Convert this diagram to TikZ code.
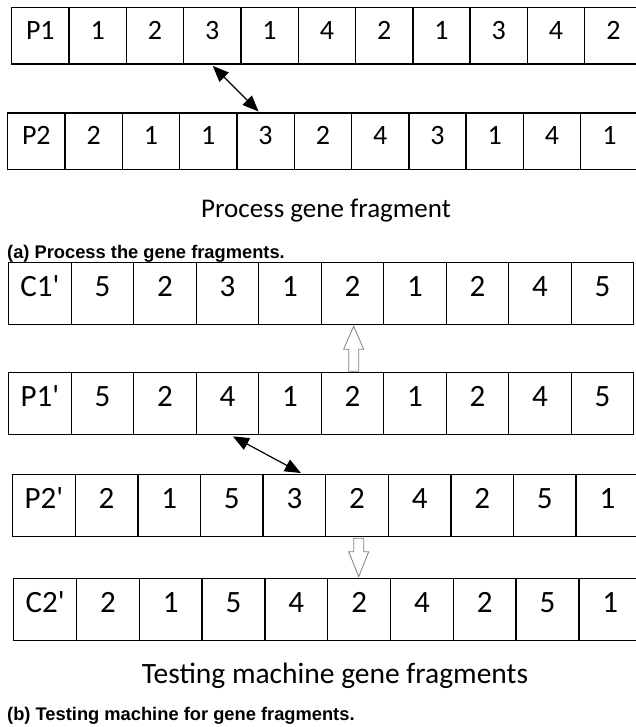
\documentclass[tikz,border=0pt]{standalone}
\usepackage{fontspec}
\setmainfont{Carlito}
\newfontfamily\cellfont{Carlito}[Ligatures=NoCommon]
\newfontfamily\capfont{Liberation Sans}
\usetikzlibrary{arrows.meta,calc}
\newcommand\ap{{\cellfont\XeTeXglyph\XeTeXcharglyph"27\relax}}
\newcommand\generow[7]{%
  \foreach \t [count=\i from 0] in {#7} {
    \node[#6, minimum width=#4pt] (#1\i) at ({#2+\i*#4}, #3) {\t};
  }}
\begin{document}
\begin{tikzpicture}[x=1pt,y=-1pt,
  cell/.style={draw=black,line width=1.4pt,inner sep=0pt,anchor=north west,text height=0.64em,text depth=0pt},
  cellA/.style={cell,minimum height=56.5pt,font=\cellfont\fontsize{28}{30}\selectfont},
  cellB/.style={cell,minimum height=62pt,font=\cellfont\fontsize{31}{33}\selectfont},
  swap/.style={line width=1.2pt,{Triangle[length=16pt,width=13pt]}-{Triangle[length=16pt,width=13pt]}},
  blockarrow/.style={draw=black!50,line width=0.8pt,fill=white},
  title/.style={anchor=base,inner sep=0pt},
  caption/.style={anchor=base west,inner sep=0pt,font=\capfont\bfseries\fontsize{18.3}{20}\selectfont}]
\useasboundingbox (0,0) rectangle (636,727);
\clip (0,0) rectangle (636,727);
\fill[white] (0,0) rectangle (636,727);
% (a)
\generow{a}{11}{7}{57.3}{56.5}{cellA}{P1,1,2,3,1,4,2,1,3,4,2}
\generow{b}{7}{112.5}{57.3}{56.5}{cellA}{P2,2,1,1,3,2,4,3,1,4,1}
\draw[swap] ($(a3.south)+(0.5,1)$) -- ($(b4.north)+(-7,-1)$);
\node[title,font=\fontsize{27}{30}\selectfont] (t1) at (326,218) {Process gene fragment};
\node[caption] (capA) at (7,258) {(a) Process the gene fragments.};
% (b)
\generow{c}{8}{262}{62.5}{62}{cellB}{C1\ap,5,2,3,1,2,1,2,4,5}
\generow{p}{8}{372}{62.5}{61.5}{cellB}{P1\ap,5,2,4,1,2,1,2,4,5}
\generow{q}{12}{474}{62.6}{62}{cellB}{P2\ap,2,1,5,3,2,4,2,5,1}
\generow{r}{13}{577.5}{62.8}{62.5}{cellB}{C2\ap,2,1,5,4,2,4,2,5,1}
\draw[swap] ($(p3.south)+(5.5,1)$) -- ($(q4.north)+(6.5,-1)$);
% open block arrows
\coordinate (ub) at ($(p5.north)+(1.2,-0.8)$);
\coordinate (ut) at ($(c5.south)+(1.2,0.8)$);
\draw[blockarrow] ($(ub)+(-5,0)$) -- ($(ut)+(-5,23)$) -- ($(ut)+(-10,23)$) -- (ut)
  -- ($(ut)+(10,23)$) -- ($(ut)+(5,23)$) -- ($(ub)+(5,0)$) -- cycle;
\coordinate (db) at ($(q5.south)+(1.7,0.8)$);
\coordinate (dt) at ($(r5.north)+(0,-0.8)$);
\coordinate (dt) at (db |- dt);
\draw[blockarrow] ($(db)+(-5,0)$) -- ($(dt)+(-5,-25)$) -- ($(dt)+(-10,-25)$) -- (dt)
  -- ($(dt)+(10,-25)$) -- ($(dt)+(5,-25)$) -- ($(db)+(5,0)$) -- cycle;
\node[title,font=\fontsize{29.5}{33}\selectfont] (t2) at (335,683) {Testing machine gene fragments};
\node[caption] (capB) at (7,720) {(b) Testing machine for gene fragments.};
\end{tikzpicture}
\end{document}
